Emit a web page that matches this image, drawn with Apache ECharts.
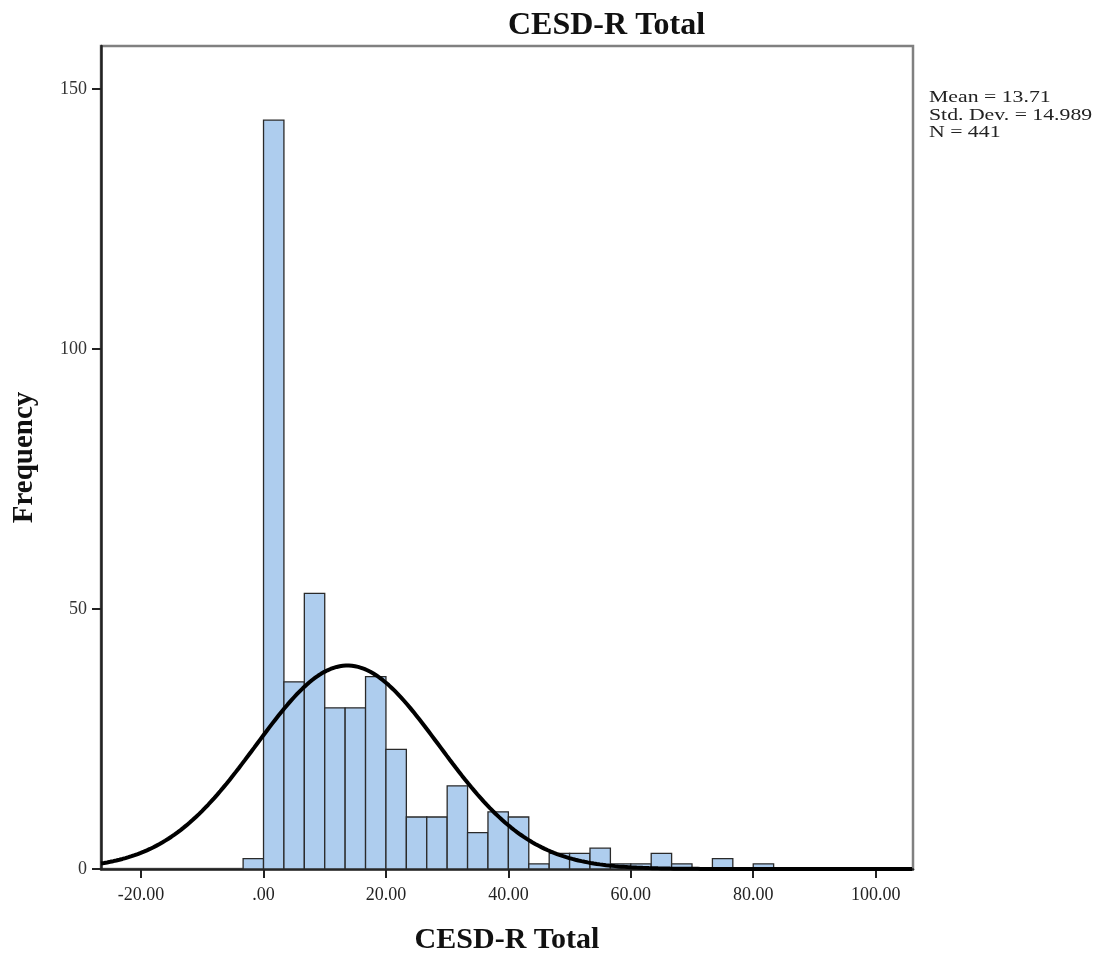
<!DOCTYPE html>
<html>
<head>
<meta charset="utf-8">
<script src="https://cdn.jsdelivr.net/npm/echarts@6/dist/echarts.min.js"></script>
<style>
html, body { margin: 0; padding: 0; background: #fff; }
#chart { width: 1101px; height: 955px; }
</style>
</head>
<body>
<div id="chart"></div>
<script>
'use strict';
// histogram bins: width 10/3, first bin starts at -10/3
var binWidth = 10 / 3;
var firstBinStart = -10 / 3;
var counts = [2, 144, 36, 53, 31, 31, 37, 23, 10, 10, 16, 7, 11, 10, 1, 3, 3, 4, 1, 1, 3, 1, 0, 2, 0, 1];
var xTicks = [-20, 0, 20, 40, 60, 80, 100];
var yTicks = [0, 50, 100, 150];
var statMean = 13.71;
var statSd = 14.989;
var statN = 441;

var bins = counts.map(function (c, i) {
	var s = firstBinStart + i * binWidth;
	return [s, s + binWidth, c];
});

// fitted normal curve from the stated mean / sd / N
var xMin = -26.55, xMax = 106.1;
var curve = [];
for (var x = xMin; x <= xMax + 0.01; x += 0.5) {
	var z = (x - statMean) / statSd;
	curve.push([x, statN * binWidth / (statSd * Math.sqrt(2 * Math.PI)) * Math.exp(-0.5 * z * z)]);
}

var serif = '"Liberation Serif", "DejaVu Serif", serif';
var myChart = echarts.init(document.getElementById('chart'));
var option = {
	animation: false,
	title: {
		text: 'CESD-R Total',
		left: 503,
		top: 5,
		textStyle: { fontFamily: serif, fontSize: 32, fontWeight: 'bold', color: '#111' }
	},
	grid: {
		left: 101, right: 188, top: 46, bottom: 86,
		outerBoundsMode: 'none',
		containLabel: false,
		show: true,
		borderColor: '#808080',
		borderWidth: 2.5
	},
	xAxis: {
		type: 'value',
		min: xMin,
		max: xMax,
		name: 'CESD-R Total',
		nameLocation: 'middle',
		nameGap: 56,
		nameTextStyle: { fontFamily: serif, fontSize: 30, fontWeight: 'bold', color: '#111' },
		axisLine: { onZero: false, lineStyle: { color: '#222', width: 2.5 } },
		axisTick: { customValues: xTicks, length: 9, lineStyle: { color: '#222', width: 2 } },
		axisLabel: {
			customValues: xTicks,
			margin: 17,
			fontFamily: serif, fontSize: 18, color: '#222',
			formatter: function (v) { return v === 0 ? '.00' : v.toFixed(2); }
		},
		splitLine: { show: false }
	},
	yAxis: {
		type: 'value',
		min: 0,
		max: 158.27,
		name: 'Frequency',
		nameLocation: 'middle',
		nameGap: 62,
		nameTextStyle: { fontFamily: serif, fontSize: 29, fontWeight: 'bold', color: '#111' },
		axisLine: { show: true, onZero: false, lineStyle: { color: '#222', width: 2.5 } },
		axisTick: { show: true, customValues: yTicks, length: 9, lineStyle: { color: '#222', width: 2 } },
		axisLabel: { customValues: yTicks, margin: 14, fontFamily: serif, fontSize: 18, color: '#333' },
		splitLine: { show: false }
	},
	graphic: [{
		type: 'text',
		x: 929,
		y: 89,
		scaleX: 1.28,
		style: {
			text: 'Mean = ' + statMean.toFixed(2) + '\nStd. Dev. = ' + statSd.toFixed(3) + '\nN = ' + statN,
			font: '17px ' + serif,
			lineHeight: 17.5,
			fill: '#222'
		}
	}],
	series: [
		{
			type: 'custom',
			data: bins,
			encode: { x: [0, 1], y: 2 },
			renderItem: function (params, api) {
				var p0 = api.coord([api.value(0), api.value(2)]);
				var p1 = api.coord([api.value(1), 0]);
				return {
					type: 'rect',
					shape: { x: p0[0], y: p0[1], width: p1[0] - p0[0], height: p1[1] - p0[1] },
					style: { fill: '#aecdee', stroke: '#2a2a2a', lineWidth: 1.3 }
				};
			},
			z: 2
		},
		{
			type: 'line',
			data: curve,
			showSymbol: false,
			clip: true,
			lineStyle: { color: '#000', width: 4 },
			z: 3
		}
	]
};
myChart.setOption(option);
</script>
</body>
</html>
